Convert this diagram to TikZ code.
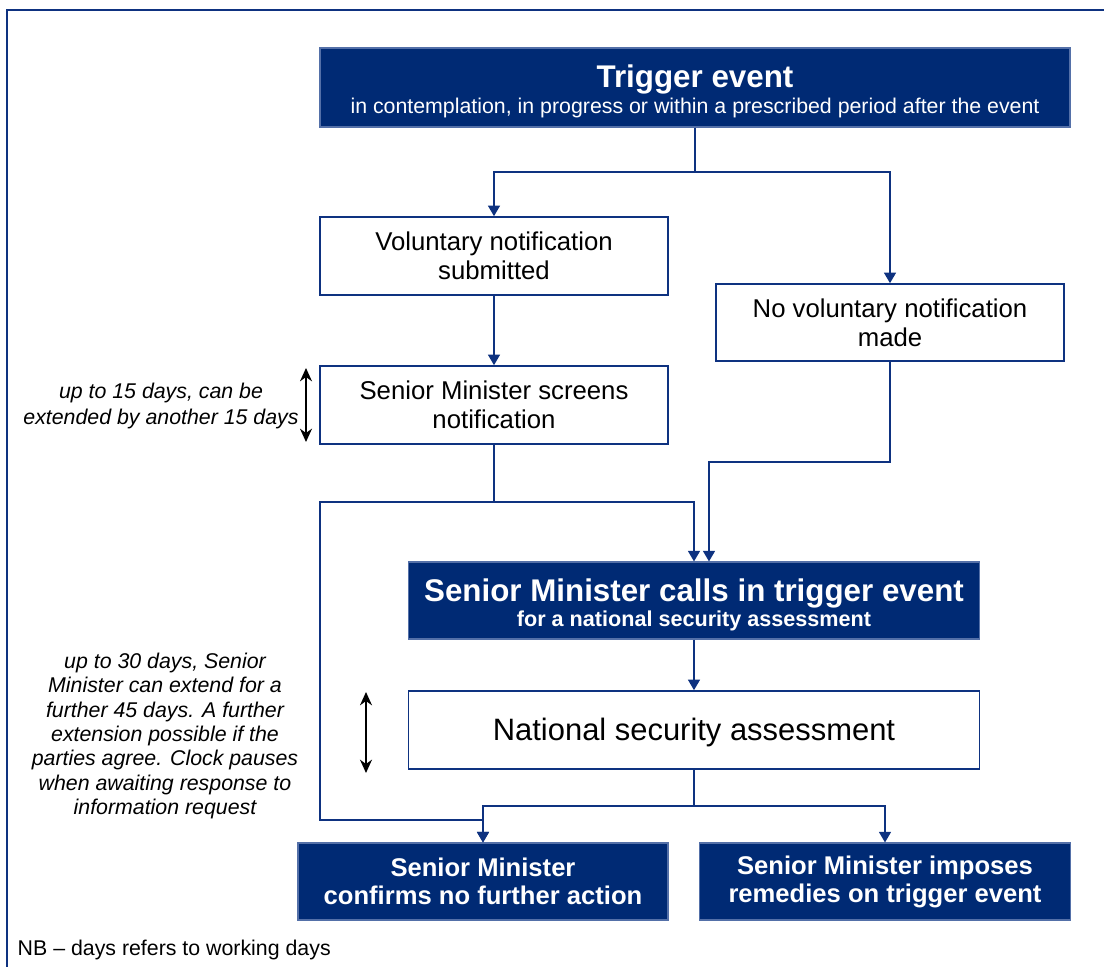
\documentclass[tikz,border=0pt]{standalone}
\usepackage{fontspec}
\setmainfont{Liberation Sans}
\usetikzlibrary{arrows.meta}

\definecolor{navy}{RGB}{0,42,116}
\definecolor{rim}{RGB}{84,112,168}
\definecolor{linkblue}{RGB}{14,50,128}

\tikzset{
 darkbox/.style={draw=rim,fill=navy,text=white,line width=0.8pt,align=center,inner sep=0pt},
 lightbox/.style={draw=linkblue,fill=white,line width=1.2pt,align=center,inner sep=0pt},
 wireline/.style={draw=linkblue,line width=1.3pt},
 link/.style={wireline,-{Triangle[width=9pt,length=8pt]}},
 span/.style={line width=1.2pt,{Stealth[width=9pt,length=10pt]}-{Stealth[width=9pt,length=10pt]}},
 note/.style={align=center,font=\itshape\fontsize{16}{18.2}\selectfont}
}

\begin{document}
\begin{tikzpicture}[x=0.75pt,y=-0.75pt]

\def\u{0.75pt}
\def\big{\fontsize{23.5}{26}\selectfont\bfseries\rule{0pt}{23pt}}
\def\body{\fontsize{19.3}{21.8}\selectfont}
\useasboundingbox (0,0) rectangle (1104,967);

% frame
\draw[linkblue,line width=1.6pt] (1104,10) -- (7,10) -- (7,967);

% boxes
\node[darkbox,minimum width=750*\u,minimum height=79*\u] (trig) at (695,87.5)
 {{\big Trigger event}\\[2pt]{\fontsize{16}{18}\selectfont in contemplation, in progress or within a prescribed period after the event}};
\node[lightbox,minimum width=348*\u,minimum height=78*\u,font=\body] (vol) at (494,256)
 {Voluntary notification\\submitted};
\node[lightbox,minimum width=348*\u,minimum height=77*\u,font=\body] (novol) at (890,322.5)
 {No voluntary notification\\made};
\node[lightbox,minimum width=348*\u,minimum height=78*\u,font=\body] (scr) at (494,405)
 {Senior Minister screens\\notification};
\node[darkbox,minimum width=571*\u,minimum height=77*\u] (calls) at (694,600.5)
 {{\big Senior Minister calls in trigger event}\\[1pt]{\fontsize{16.2}{18}\selectfont\bfseries for a national security assessment}};
\node[lightbox,minimum width=571*\u,minimum height=78*\u,font=\fontsize{23.2}{26}\selectfont] (nsa) at (694,730)
 {\rule{0pt}{21pt}National security assessment};
\node[darkbox,minimum width=370*\u,minimum height=77*\u,font=\fontsize{19.2}{21}\selectfont\bfseries] (conf) at (483,881.5)
 {Senior Minister\\confirms no further action};
\node[darkbox,minimum width=371*\u,minimum height=77*\u,font=\fontsize{19.2}{21}\selectfont\bfseries] (imp) at (885,881.5)
 {Senior Minister imposes\\remedies on trigger event};

% notes
\node[note,font=\itshape\fontsize{16}{19.5}\selectfont] (n15) at (161,406) {up to 15 days, can be\\extended by another 15 days};
\node[note] (n30) at (165,736) {up to 30 days, Senior\\Minister can extend for a\\further 45 days. A further\\extension possible if the\\parties agree. Clock pauses\\when awaiting response to\\information request};
\node[anchor=west,font=\fontsize{16}{18}\selectfont] (nb) at (13,950) {NB -- days refers to working days};

% connectors
\coordinate (b1) at (695,172);
\coordinate (b2) at (494,502);
\coordinate (b3) at (890,462);
\coordinate (b4) at (694,806);
\coordinate (l1) at (320,502);
\coordinate (l2) at (320,820);

\draw[wireline] (trig.south) -- (b1);
\draw[link] (b1) -| (vol.north);
\draw[link] (b1) -| (novol.north);
\draw[link] (vol) -- (scr);
\draw[wireline] (scr.south) -- (b2);
\draw[link] (b2) -| (calls.north);
\draw[link] (novol.south) -- (b3) -| ([xshift=15*\u]calls.north);
\draw[link] (b2) -- (l1) -- (l2) -| (conf.north);
\draw[link] (calls) -- (nsa);
\draw[wireline] (nsa.south) -- (b4);
\draw[link] (b4) -| (conf.north);
\draw[link] (b4) -| (imp.north);

% spans
\coordinate (s1) at (306,368);
\coordinate (s2) at (306,442);
\coordinate (s3) at (366,692);
\coordinate (s4) at (366,773);
\draw[span] (s1) -- (s2);
\draw[span] (s3) -- (s4);

\end{tikzpicture}
\end{document}
